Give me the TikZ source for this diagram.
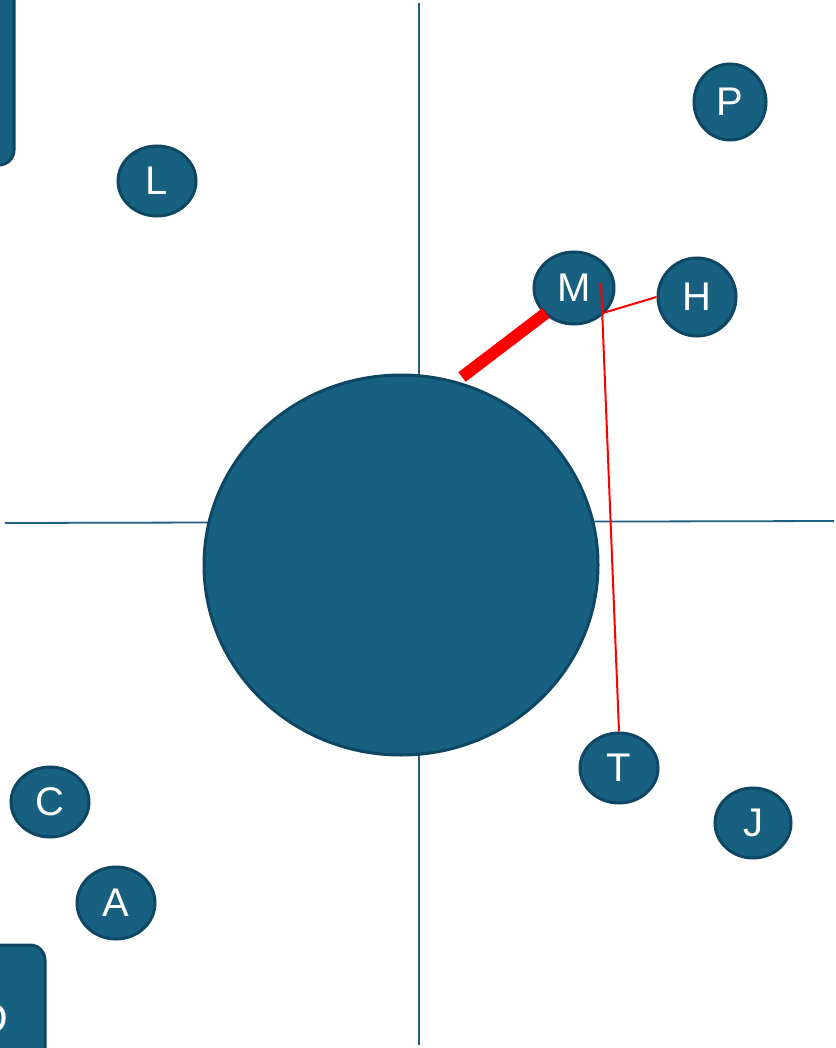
\documentclass[tikz,border=0pt]{standalone}
\usepackage{fontspec}
\setmainfont{Liberation Sans}
\usetikzlibrary{shapes.geometric}
\definecolor{tealfill}{HTML}{17607F}
\definecolor{tealedge}{HTML}{0E4763}
\definecolor{axis}{HTML}{1E5F82}
\begin{document}
\begin{tikzpicture}[x=1pt,y=-1pt,
  bubble/.style={ellipse,draw=tealedge,line width=3pt,fill=tealfill,text=white,inner sep=0pt,font=\fontsize{40}{40}\selectfont},
  axisline/.style={draw=axis,line width=1.8pt},
  redthin/.style={draw=red,line width=2pt},
  redthick/.style={draw=red,line width=12pt},
  tab/.style={draw=tealedge,line width=3pt,fill=tealfill,rounded corners=15pt}]
\useasboundingbox (0,0) rectangle (835,1048);
\clip (0,0) rectangle (835,1048);
% axes
\coordinate (vt) at (419,3);
\coordinate (vb) at (419,1045);
\coordinate (hl) at (5,523);
\coordinate (hr) at (834,521);
\draw[axisline] (vt) -- (vb);
\draw[axisline] (hl) -- (hr);
% side tabs
\draw[tab] (-40,-40) rectangle (14,165);
\draw[tab] (-60,945) rectangle (45,1100);
\node[text=white,font=\fontsize{44}{44}\selectfont,anchor=base] (D) at (-8,1033) {D};
% big circle
\node[ellipse,draw=tealedge,line width=3pt,fill=tealfill,minimum width=394pt,minimum height=380pt,inner sep=0pt] (core) at (401,565) {};
% bubbles
\node[bubble,minimum width=78pt,minimum height=70pt] (L) at (157,181) {L};
\node[bubble,minimum width=72pt,minimum height=76pt] (P) at (730,102) {P};
\node[bubble,minimum width=80pt,minimum height=72pt] (M) at (574,288) {M};
\node[bubble,minimum width=78pt,minimum height=78pt] (H) at (697,297) {H};
\node[bubble,minimum width=78pt,minimum height=70pt] (T) at (619,768) {T};
\node[bubble,minimum width=76pt,minimum height=70pt] (J) at (753,823) {J};
\node[bubble,minimum width=78pt,minimum height=70pt] (C) at (50,802) {C};
\node[bubble,minimum width=78pt,minimum height=72pt] (A) at (116,903) {A};
% red connectors
\coordinate (mt) at (601,283);
\coordinate (mh) at (603,313);
\coordinate (ms) at (546,313);
\coordinate (cs) at (462,377);
\draw[redthick] (cs) -- (ms);
\draw[redthin] (mt) -- (T.north);
\draw[redthin] (mh) -- (H.west);
\end{tikzpicture}
\end{document}
